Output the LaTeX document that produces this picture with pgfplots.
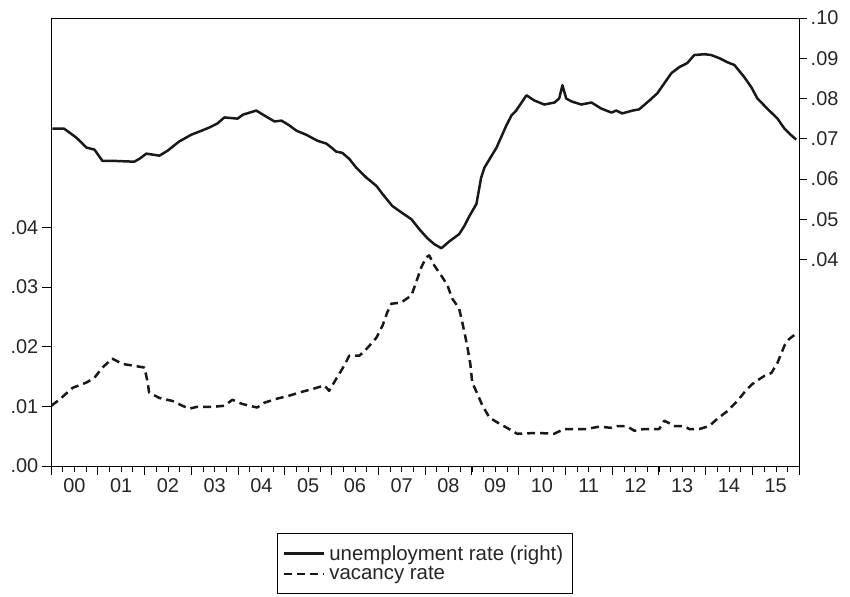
\documentclass[border=0pt]{standalone}
\usepackage{fontspec}
\setmainfont{Liberation Sans}
\usepackage{pgfplots}
\pgfplotsset{compat=1.18}
\pgfplotstableread{
x y
2000.03 0.0725
2000.28 0.0725
2000.54 0.0703
2000.76 0.0678
2000.93 0.0673
2001.10 0.0645
2001.35 0.0645
2001.78 0.0643
2001.89 0.0650
2002.04 0.0663
2002.32 0.0658
2002.49 0.0670
2002.74 0.0693
2003.00 0.0710
2003.22 0.0720
2003.39 0.0728
2003.56 0.0738
2003.71 0.0753
2003.99 0.0750
2004.11 0.0760
2004.39 0.0770
2004.56 0.0758
2004.78 0.0743
2004.93 0.0745
2005.10 0.0733
2005.25 0.0720
2005.46 0.0710
2005.57 0.0703
2005.70 0.0695
2005.89 0.0688
2006.00 0.0678
2006.10 0.0668
2006.23 0.0665
2006.38 0.0650
2006.53 0.0628
2006.75 0.0603
2006.96 0.0583
2007.09 0.0563
2007.30 0.0533
2007.52 0.0515
2007.71 0.0500
2007.88 0.0475
2008.05 0.0453
2008.20 0.0438
2008.35 0.0428
2008.52 0.0445
2008.73 0.0463
2008.84 0.0483
2008.95 0.0508
2009.10 0.0538
2009.20 0.0603
2009.27 0.0628
2009.53 0.0678
2009.74 0.0733
2009.85 0.0758
2009.95 0.0770
2010.17 0.0808
2010.34 0.0795
2010.55 0.0785
2010.77 0.0790
2010.87 0.0800
2010.94 0.0833
2011.02 0.0800
2011.13 0.0793
2011.34 0.0785
2011.56 0.0790
2011.77 0.0775
2011.99 0.0765
2012.09 0.0770
2012.22 0.0763
2012.44 0.0770
2012.58 0.0773
2012.80 0.0795
2012.97 0.0813
2013.12 0.0838
2013.27 0.0863
2013.44 0.0878
2013.61 0.0888
2013.76 0.0908
2013.98 0.0910
2014.12 0.0908
2014.30 0.0900
2014.47 0.0890
2014.62 0.0883
2014.83 0.0853
2014.98 0.0828
2015.11 0.0800
2015.32 0.0775
2015.54 0.0750
2015.69 0.0725
2015.84 0.0708
2015.94 0.0698
}\unemp
\pgfplotstableread{
x y
2000.01 0.0101
2000.22 0.0114
2000.46 0.0131
2000.76 0.0140
2000.93 0.0148
2001.10 0.0165
2001.31 0.0180
2001.53 0.0171
2001.78 0.0168
2002.00 0.0165
2002.06 0.0143
2002.10 0.0123
2002.32 0.0114
2002.60 0.0109
2002.81 0.0101
2002.96 0.0096
2003.11 0.0099
2003.43 0.0099
2003.71 0.0101
2003.88 0.0111
2004.09 0.0104
2004.41 0.0098
2004.56 0.0106
2004.84 0.0113
2005.10 0.0118
2005.35 0.0124
2005.59 0.0129
2005.85 0.0135
2005.95 0.0126
2006.10 0.0146
2006.27 0.0168
2006.38 0.0185
2006.60 0.0185
2006.77 0.0198
2006.96 0.0215
2007.09 0.0235
2007.19 0.0257
2007.28 0.0272
2007.49 0.0274
2007.71 0.0286
2007.81 0.0308
2007.92 0.0333
2008.03 0.0350
2008.09 0.0353
2008.20 0.0336
2008.35 0.0319
2008.48 0.0303
2008.58 0.0281
2008.73 0.0264
2008.80 0.0240
2008.86 0.0218
2008.91 0.0198
2008.97 0.0171
2009.01 0.0140
2009.12 0.0121
2009.23 0.0101
2009.38 0.0081
2009.59 0.0071
2009.80 0.0062
2009.97 0.0054
2010.27 0.0055
2010.51 0.0055
2010.76 0.0054
2010.98 0.0062
2011.23 0.0062
2011.45 0.0062
2011.73 0.0066
2011.98 0.0064
2012.11 0.0067
2012.31 0.0067
2012.48 0.0059
2012.69 0.0062
2013.01 0.0062
2013.12 0.0076
2013.33 0.0067
2013.55 0.0067
2013.65 0.0062
2013.87 0.0062
2014.08 0.0067
2014.25 0.0079
2014.47 0.0092
2014.68 0.0109
2014.89 0.0129
2015.04 0.0140
2015.26 0.0151
2015.41 0.0156
2015.54 0.0173
2015.69 0.0202
2015.79 0.0213
2015.94 0.0222
}\vacancy
\begin{document}
\begin{tikzpicture}
\useasboundingbox (-51bp,-131bp) rectangle (799bp,466bp);
\pgfplotsset{
  every tick label/.append style={font=\fontsize{20}{24}\selectfont, text=black!85},
  every axis/.append style={line width=0.8bp},
}
\begin{axis}[
  at={(0,0)}, anchor=south west,
  scale only axis, width=748bp, height=448bp,
  xmin=2000, xmax=2016, ymin=0, ymax=0.0751,
  xtick={2000,2001,...,2016},
  xticklabels={00,01,02,03,04,05,06,07,08,09,10,11,12,13,14,15,{}},
  xticklabel style={xshift=23.4bp},
  minor xtick={2000.25,2000.5,...,2016},
  ytick={0,0.01,0.02,0.03,0.04},
  yticklabels={.00,.01,.02,.03,.04},
  scaled y ticks=false, scaled x ticks=false,
  xtick pos=bottom, ytick pos=left,
  tick align=outside,
  major tick length=9bp, minor tick length=6bp,
  tick style={black, line width=0.8bp},
  minor tick style={black, line width=0.8bp},
  axis line style={black},
]
\addplot[black!90, line width=2.5bp, dash pattern=on 8bp off 5bp, line join=round] table {\vacancy};
\end{axis}
\begin{axis}[
  at={(0,0)}, anchor=south west,
  scale only axis, width=748bp, height=448bp,
  xmin=2000, xmax=2016, ymin=-0.0113, ymax=0.10,
  hide x axis,
  ytick={0.04,0.05,0.06,0.07,0.08,0.09,0.10},
  yticklabels={.04,.05,.06,.07,.08,.09,.10},
  scaled y ticks=false,
  ytick pos=right,
  tick align=outside,
  major tick length=8bp,
  tick style={black, line width=0.8bp},
  axis line style={black},
  legend style={at={(0.5,-0.1496)}, anchor=north, draw=black, line width=0.8bp,
    font=\fontsize{20.5}{24}\selectfont, text=black!85, legend cell align=left,
    row sep=3bp, inner xsep=5bp, inner ysep=11bp,
    nodes={inner xsep=4bp, inner ysep=1bp}},
]
\addplot[black!90, line width=2.5bp, line join=round,
  legend image code/.code={\draw[black!90, line width=2.5bp] (0bp,0bp) -- (40bp,0bp);}] table {\unemp};
\addlegendentry{unemployment rate (right)}
\addlegendimage{legend image code/.code={\draw[black!90, line width=2.5bp, dash pattern=on 8bp off 5bp] (0bp,0bp) -- (40bp,0bp);}}
\addlegendentry{vacancy rate}
\end{axis}
\end{tikzpicture}
\end{document}
